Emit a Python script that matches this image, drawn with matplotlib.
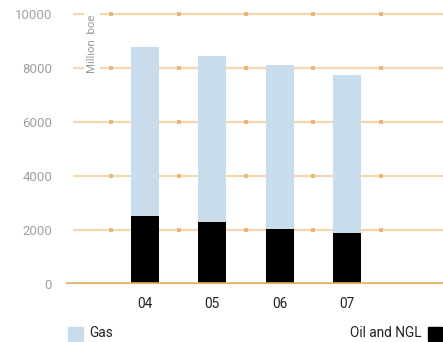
import matplotlib
matplotlib.use("Agg")
import matplotlib.pyplot as plt
from matplotlib.patches import Rectangle

years = ["04", "05", "06", "07"]
oil_ngl = [2520, 2300, 2040, 1890]
gas = [6260, 6140, 6070, 5850]
y_ticks = [0, 2000, 4000, 6000, 8000, 10000]

plt.rcParams["font.family"] = ["Roboto", "DejaVu Sans"]

fig = plt.figure(figsize=(4.43, 3.42), dpi=100)
ax = fig.add_axes([66 / 443, 58 / 342, 377 / 443, 270 / 342])

grid_c = "#f3d9b1"
mark_c = "#e8b97a"
base_c = "#e2b36e"

x = list(range(len(years)))
ax.set_xlim(-1.174, 4.428)
ax.set_ylim(0, 10000)

# horizontal gridlines with small square markers between the categories
for yv in y_ticks[1:]:
    ax.hlines(yv, -1.07, 4.428, color=grid_c, lw=1.6, zorder=1, clip_on=False)
    ax.plot([-0.5, 0.5, 1.5, 2.5, 3.5], [yv] * 5, ls="none", marker="s",
            ms=3.2, color=mark_c, mew=0, zorder=1.5, clip_on=False)

ax.bar(x, oil_ngl, width=0.416, color="#000000", zorder=3)
ax.bar(x, gas, bottom=oil_ngl, width=0.416, color="#c8dcec", zorder=3)

ax.axhline(0, color=base_c, lw=2.6, zorder=4)

ax.text(-0.79, 8900, "Million  boe", rotation=90, ha="center", va="center",
        fontsize=8.2, color="#9a9a9a", zorder=2,
        bbox=dict(facecolor="white", edgecolor="none", pad=2.2))

ax.set_yticks(y_ticks)
ax.set_yticklabels([str(v) for v in y_ticks])
ax.set_xticks(x)
ax.set_xticklabels(years)
ax.tick_params(axis="y", length=0, pad=10, labelsize=9.5, labelcolor="#a0a0a0")
ax.tick_params(axis="x", length=0, pad=9, labelsize=9.8, labelcolor="#222222")
for s in ax.spines.values():
    s.set_visible(False)

# legend entries
fig.patches.append(Rectangle((68 / 443, 1 - 341 / 342), 15 / 443, 14 / 342,
                             transform=fig.transFigure, color="#c8dcec"))
fig.text(89 / 443, 1 - 333 / 342, "Gas", fontsize=9.8, color="#222222",
         ha="left", va="center")
fig.patches.append(Rectangle((428 / 443, 1 - 341 / 342), 14 / 443, 14 / 342,
                             transform=fig.transFigure, color="#000000"))
fig.text(421 / 443, 1 - 333 / 342, "Oil and NGL", fontsize=9.8, color="#222222",
         ha="right", va="center")

fig.savefig("out.png", dpi=100)
